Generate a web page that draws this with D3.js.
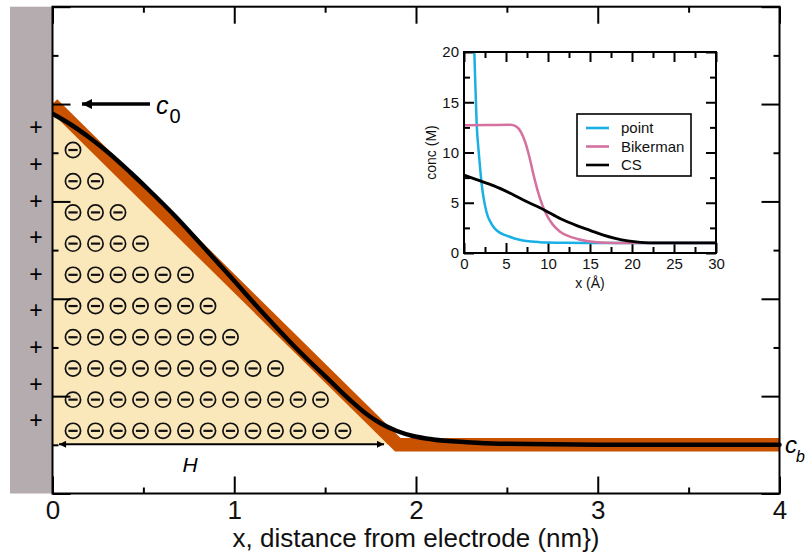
<!DOCTYPE html>
<html><head><meta charset="utf-8">
<script src="https://cdn.jsdelivr.net/npm/d3@7"></script>
<style>
html,body{margin:0;padding:0;background:#fff;}
svg{display:block;font-family:"Liberation Sans",Arial,Helvetica,sans-serif;}
</style></head>
<body>
<svg id="chart" width="807" height="556"></svg>
<script>
// ---------- main chart data ----------
const xTicksMain = [0, 1, 2, 3, 4];
const xTicksMainMinor = [0.5, 1.5, 2.5, 3.5];
const yTicksMain = [0, 1, 2, 3, 4, 5];
const yTicksMainMinor = [0.5, 1.5, 2.5, 3.5, 4.5];
const xLabel = "x, distance from electrode (nm})";

// idealised (orange) profile
const modelX = [0, 1.9, 4];
const modelY = [4.0, 0.5, 0.5];
// computed (black) profile
const profileX = [0, 0.096, 0.206, 0.316, 0.426, 0.536, 0.674, 0.811, 0.976, 1.158, 1.345, 1.527, 1.637, 1.72, 1.802, 1.895, 1.983, 2.094, 2.28, 2.462, 3.012, 4.0];
const profileY = [3.90, 3.795, 3.651, 3.487, 3.302, 3.107, 2.850, 2.573, 2.234, 1.854, 1.484, 1.156, 0.96, 0.827, 0.724, 0.642, 0.591, 0.555, 0.527, 0.512, 0.502, 0.5];
const c0Value = 4.0;
const cbValue = 0.5;
const layerThickness = 1.9;   // H
const anionCounts = [1, 2, 3, 4, 6, 7, 8, 10, 12, 13];
const plusCount = 9;

// ---------- inset data ----------
const insetXTicks = [0, 5, 10, 15, 20, 25, 30];
const insetXMinor = [2.5, 7.5, 12.5, 17.5, 22.5, 27.5];
const insetYTicks = [0, 5, 10, 15, 20];
const insetYMinor = [2.5, 7.5, 12.5, 17.5];
const seriesNames = ["point", "Bikerman", "CS"];
const pointX = [1.1, 1.23, 1.5, 1.8, 2.1, 2.7, 3.2, 3.7, 4.3, 5.0, 6.0, 7.0, 8.0, 9.0, 10, 12, 15, 20, 30];
const pointY = [23, 20, 13.0, 9.6, 6.9, 4.0, 3.0, 2.4, 2.0, 1.75, 1.45, 1.25, 1.14, 1.08, 1.04, 1.01, 1.0, 1.0, 1.0];
const bikX = [0, 3, 5.5, 6.2, 6.8, 7.3, 7.8, 8.3, 8.8, 9.4, 10.0, 10.6, 11.4, 12.4, 13.5, 14.6, 15.6, 17, 19, 30];
const bikY = [12.7, 12.73, 12.75, 12.6, 12.0, 11.0, 9.5, 7.7, 6.1, 4.6, 3.55, 2.8, 2.15, 1.7, 1.4, 1.2, 1.1, 1.03, 1.0, 1.0];
const csX = [0, 1.5, 3.5, 5.5, 7.5, 9.5, 11.5, 13.5, 15, 16.5, 18, 19.5, 21, 23, 30];
const csY = [7.75, 7.3, 6.7, 5.95, 5.1, 4.3, 3.4, 2.7, 2.25, 1.8, 1.45, 1.2, 1.06, 1.0, 1.0];

const COLORS = {orange: "#c95200", fill: "#fae7ba", grey: "#b4acae", point: "#1ab0e6", bik: "#d4719f", cs: "#000"};

const svg = d3.select("#chart");
const x = d3.scaleLinear().domain([0, 4]).range([52.5, 779.5]);
const y = d3.scaleLinear().domain([0, 5]).range([493.5, 6.7]);

const defs = svg.append("defs");
defs.append("marker").attr("id", "ah").attr("viewBox", "0 0 10 10").attr("refX", 10).attr("refY", 5)
  .attr("markerWidth", 10).attr("markerHeight", 7).attr("markerUnits", "userSpaceOnUse").attr("orient", "auto-start-reverse")
  .append("path").attr("d", "M0,0L10,5L0,10Z").attr("fill", "#000");
defs.append("marker").attr("id", "ahBig").attr("viewBox", "0 0 10 10").attr("refX", 10).attr("refY", 5)
  .attr("markerWidth", 12).attr("markerHeight", 10).attr("markerUnits", "userSpaceOnUse").attr("orient", "auto-start-reverse")
  .append("path").attr("d", "M0,0L10,5L0,10Z").attr("fill", "#000");

// yellow region
svg.append("path")
  .attr("d", d3.line()([[x(0), y(c0Value)], [x(layerThickness), y(cbValue)], [x(0), y(cbValue)]]) + "Z")
  .attr("fill", COLORS.fill);

// anions
const anionG = svg.append("g");
anionCounts.forEach((n, i) => {
  const cy = y(3.528 - i * 0.3205);
  for (let k = 0; k < n; k++) {
    const cx = x(0.1128 + k * 0.1238);
    anionG.append("circle").attr("cx", cx).attr("cy", cy).attr("r", 7.6)
      .attr("fill", "none").attr("stroke", "#111").attr("stroke-width", 1.7);
    anionG.append("line").attr("x1", cx - 4.6).attr("x2", cx + 4.6).attr("y1", cy).attr("y2", cy)
      .attr("stroke", "#111").attr("stroke-width", 2.2);
  }
});

// orange model
svg.append("path").datum(modelX.map((d, i) => [d, modelY[i]]))
  .attr("d", d3.line().x(d => x(d[0])).y(d => y(d[1])))
  .attr("fill", "none").attr("stroke", COLORS.orange).attr("stroke-width", 13.5)
  .attr("stroke-linejoin", "miter").attr("stroke-linecap", "butt");

// black profile
svg.append("path").datum(profileX.map((d, i) => [d, profileY[i]]))
  .attr("d", d3.line().curve(d3.curveMonotoneX).x(d => x(d[0])).y(d => y(d[1])))
  .attr("fill", "none").attr("stroke", "#000").attr("stroke-width", 4.5).attr("stroke-linecap", "round");

// H arrow
svg.append("line").attr("x1", x(0.036)).attr("x2", x(1.824)).attr("y1", y(cbValue) - 0.5).attr("y2", y(cbValue) - 0.5)
  .attr("stroke", "#000").attr("stroke-width", 2)
  .attr("marker-start", "url(#ah)").attr("marker-end", "url(#ah)");
svg.append("text").attr("x", 190).attr("y", 472).attr("text-anchor", "middle")
  .attr("font-size", 21).attr("font-style", "italic").text("H");

// electrode
svg.append("rect").attr("x", 10).attr("y", y(5)).attr("width", x(0) - 10).attr("height", y(0) - y(5))
  .attr("fill", COLORS.grey);
for (let i = 0; i < plusCount; i++) {
  svg.append("text").attr("x", x(-0.0908)).attr("y", y(3.764 - i * 0.376)).attr("dy", "0.36em")
    .attr("text-anchor", "middle").attr("font-size", 23).text("+");
}

// axes
function styleAxis(g) {
  g.select(".domain").remove();
  g.selectAll(".tick line").attr("stroke", "#000").attr("stroke-width", 2);
}
svg.append("g").attr("transform", `translate(0,${y(0)})`)
  .call(d3.axisBottom(x).tickValues(xTicksMain).tickSizeInner(-17).tickSizeOuter(0).tickPadding(7).tickFormat(d3.format("d")))
  .call(styleAxis)
  .call(g => g.selectAll("text").attr("font-size", 26).attr("fill", "#111").attr("font-family", "Liberation Sans, Arial, sans-serif"));
svg.append("g").attr("transform", `translate(0,${y(0)})`)
  .call(d3.axisBottom(x).tickValues(xTicksMainMinor).tickSizeInner(-6).tickSizeOuter(0).tickFormat(""))
  .call(styleAxis);
svg.append("g").attr("transform", `translate(0,${y(5)})`)
  .call(d3.axisTop(x).tickValues(xTicksMain).tickSizeInner(-17).tickSizeOuter(0).tickFormat(""))
  .call(styleAxis);
svg.append("g").attr("transform", `translate(0,${y(5)})`)
  .call(d3.axisTop(x).tickValues(xTicksMainMinor).tickSizeInner(-6).tickSizeOuter(0).tickFormat(""))
  .call(styleAxis);
svg.append("g").attr("transform", `translate(${x(0)},0)`)
  .call(d3.axisLeft(y).tickValues(yTicksMain).tickSizeInner(-18).tickSizeOuter(0).tickFormat(""))
  .call(styleAxis);
svg.append("g").attr("transform", `translate(${x(0)},0)`)
  .call(d3.axisLeft(y).tickValues(yTicksMainMinor).tickSizeInner(-6).tickSizeOuter(0).tickFormat(""))
  .call(styleAxis);
svg.append("g").attr("transform", `translate(${x(4)},0)`)
  .call(d3.axisRight(y).tickValues(yTicksMain).tickSizeInner(-18).tickSizeOuter(0).tickFormat(""))
  .call(styleAxis);
svg.append("g").attr("transform", `translate(${x(4)},0)`)
  .call(d3.axisRight(y).tickValues(yTicksMainMinor).tickSizeInner(-6).tickSizeOuter(0).tickFormat(""))
  .call(styleAxis);
svg.append("rect").attr("x", x(0)).attr("y", y(5)).attr("width", x(4) - x(0)).attr("height", y(0) - y(5))
  .attr("fill", "none").attr("stroke", "#000").attr("stroke-width", 2);

svg.append("text").attr("x", (x(0) + x(4)) / 2).attr("y", 547).attr("text-anchor", "middle")
  .attr("font-size", 26).attr("fill", "#111").text(xLabel);

// c0 annotation
svg.append("line").attr("x1", 150).attr("x2", 82).attr("y1", y(c0Value)).attr("y2", y(c0Value))
  .attr("stroke", "#000").attr("stroke-width", 3.5).attr("marker-end", "url(#ahBig)");
const c0t = svg.append("text").attr("x", 156).attr("y", 114).attr("font-size", 25);
c0t.append("tspan").attr("font-style", "italic").text("c");
c0t.append("tspan").attr("font-size", 20).attr("dy", 9).attr("dx", 1).text("0");
// cb annotation
const cbt = svg.append("text").attr("x", 785).attr("y", 453).attr("font-size", 24);
cbt.append("tspan").attr("font-style", "italic").text("c");
cbt.append("tspan").attr("font-size", 16).attr("font-style", "italic").attr("dy", 9).attr("dx", -1).text("b");

// ---------- inset ----------
const xi = d3.scaleLinear().domain([0, 30]).range([464, 716]);
const yi = d3.scaleLinear().domain([0, 20]).range([253, 52]);
const inset = svg.append("g");
inset.append("rect").attr("x", xi(0)).attr("y", yi(20)).attr("width", xi(30) - xi(0)).attr("height", yi(0) - yi(20)).attr("fill", "#fff");
defs.append("clipPath").attr("id", "insetClip").append("rect")
  .attr("x", xi(0)).attr("y", yi(20)).attr("width", xi(30) - xi(0)).attr("height", yi(0) - yi(20));

function iAxis(axis, tx, ty, vals, size, labels) {
  const g = inset.append("g").attr("transform", `translate(${tx},${ty})`)
    .call(axis.tickValues(vals).tickSizeInner(-size).tickSizeOuter(0).tickPadding(labels ? 5 : 0).tickFormat(labels ? d3.format("d") : ""));
  g.select(".domain").remove();
  g.selectAll(".tick line").attr("stroke", "#000").attr("stroke-width", 2);
  g.selectAll("text").attr("font-size", 15).attr("fill", "#111").attr("font-family", "Liberation Sans, Arial, sans-serif");
}
iAxis(d3.axisBottom(xi), 0, yi(0), insetXTicks, 10, true);
iAxis(d3.axisBottom(xi), 0, yi(0), insetXMinor, 6, false);
iAxis(d3.axisTop(xi), 0, yi(20), insetXTicks, 10, false);
iAxis(d3.axisTop(xi), 0, yi(20), insetXMinor, 6, false);
iAxis(d3.axisLeft(yi), xi(0), 0, insetYTicks, 10, true);
iAxis(d3.axisLeft(yi), xi(0), 0, insetYMinor, 6, false);
iAxis(d3.axisRight(yi), xi(30), 0, insetYTicks, 10, false);
iAxis(d3.axisRight(yi), xi(30), 0, insetYMinor, 6, false);

const iline = d3.line().curve(d3.curveMonotoneX).x(d => xi(d[0])).y(d => yi(d[1]));
const curves = inset.append("g").attr("clip-path", "url(#insetClip)");
curves.append("path").datum(pointX.map((d, i) => [d, pointY[i]])).attr("d", iline)
  .attr("fill", "none").attr("stroke", COLORS.point).attr("stroke-width", 2.5);
curves.append("path").datum(bikX.map((d, i) => [d, bikY[i]])).attr("d", iline)
  .attr("fill", "none").attr("stroke", COLORS.bik).attr("stroke-width", 2.5);
curves.append("path").datum(csX.map((d, i) => [d, csY[i]])).attr("d", iline)
  .attr("fill", "none").attr("stroke", COLORS.cs).attr("stroke-width", 2.8);

inset.append("rect").attr("x", xi(0)).attr("y", yi(20)).attr("width", xi(30) - xi(0)).attr("height", yi(0) - yi(20))
  .attr("fill", "none").attr("stroke", "#000").attr("stroke-width", 2);

inset.append("text").attr("transform", `translate(436,${(yi(0) + yi(20)) / 2}) rotate(-90)`)
  .attr("text-anchor", "middle").attr("font-size", 14).attr("fill", "#111").text("conc (M)");
inset.append("text").attr("x", (xi(0) + xi(30)) / 2).attr("y", 288).attr("text-anchor", "middle")
  .attr("font-size", 14).attr("fill", "#111").text("x (Å)");

// legend
const legend = inset.append("g");
legend.append("rect").attr("x", 577).attr("y", 114).attr("width", 114).attr("height", 62)
  .attr("fill", "#fff").attr("stroke", "#000").attr("stroke-width", 1.6);
const legColors = [COLORS.point, COLORS.bik, COLORS.cs];
seriesNames.forEach((name, i) => {
  const ly = 128 + i * 18.5;
  legend.append("line").attr("x1", 586).attr("x2", 609).attr("y1", ly).attr("y2", ly)
    .attr("stroke", legColors[i]).attr("stroke-width", 2.6);
  legend.append("text").attr("x", 621).attr("y", ly).attr("dy", "0.35em").attr("font-size", 15)
    .attr("fill", "#111").text(name);
});
</script>
</body></html>
